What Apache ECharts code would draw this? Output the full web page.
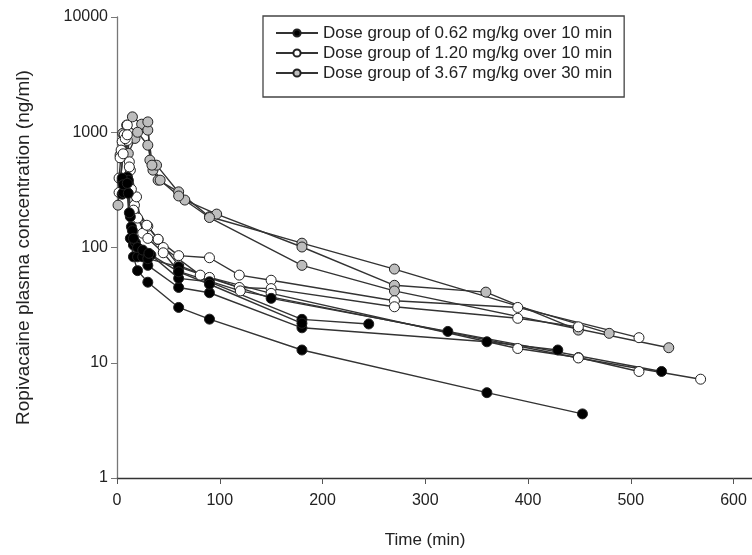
<!DOCTYPE html>
<html>
<head>
<meta charset="utf-8">
<script src="https://cdn.jsdelivr.net/npm/echarts@6/dist/echarts.min.js"></script>
<style>
html,body{margin:0;padding:0;background:#fff;}
#chart{width:752px;height:555px;}
</style>
</head>
<body>
<div id="chart"></div>
<script>
// ---- data (time in min, concentration in ng/ml) ----
const groupNames = [
  'Dose group of 0.62 mg/kg over 10 min',
  'Dose group of 1.20 mg/kg over 10 min',
  'Dose group of 3.67 mg/kg over 30 min'
];
const xTicks = [0, 100, 200, 300, 400, 500, 600];
const yTicks = [1, 10, 100, 1000, 10000];

// 0.62 mg/kg subjects
const low1 = [[5,290],[10,300],[13,120],[16,83],[20,63],[30,50],[60,30.2],[90,23.9],[180,12.9],[360,5.5],[453,3.6]];
const low2 = [[5,380],[10,410],[13,185],[16,105],[20,83],[30,70],[60,45],[90,40.5],[180,20.1],[360,15.2],[429,12.9]];
const low3 = [[6,300],[11,384],[14,151],[18,110],[25,83],[33,86],[60,54],[90,50.4],[180,23.8],[245,21.7]];
const low4 = [[5,400],[11,295],[15,140],[20,100],[30,80],[60,68],[150,36.2],[322,18.7],[530,8.4]];
const low5 = [[6,350],[10,360],[12,200],[16,120],[25,95],[31,89],[60,61.5],[90,48],[180,22]];

// 1.20 mg/kg subjects
const mid1 = [[2,400],[5,830],[10,1153],[12,554],[17,233],[30,153],[40,117],[60,85],[90,81.5],[119,57.6],[150,52],[270,34.5],[390,30.2],[508,16.5]];
const mid2 = [[3,600],[7,950],[10,850],[13,469],[19,275],[25,133],[45,100],[81,57.6],[119,45],[150,44],[270,30.6],[390,24.3],[449,20.5]];
const mid3 = [[4,700],[8,880],[12,500],[16,211],[29,156],[40,118],[60,70],[90,55],[150,40],[390,13.3],[449,11.1],[508,8.4]];
const mid4 = [[2,300],[6,650],[10,950],[14,320],[20,180],[30,120],[45,90],[60,62],[120,42],[449,11],[568,7.2]];

// 3.67 mg/kg subjects
const high1 = [[1,233],[7,826],[15,1360],[24,1175],[30,1043],[35,469],[40,384],[60,304],[90,185],[180,109],[270,65],[479,18]];
const high2 = [[3,633],[11,655],[17.5,884],[30,1230],[32,573],[38.5,518],[66,258],[97,195],[180,101],[270,47],[359,41],[449,19.2]];
const high3 = [[5.5,977],[9.4,1153],[20,1000],[30,772],[34,518],[42,384],[60,280],[90,182],[180,70],[270,42],[537,13.5]];

const lowSubjects = [low1, low2, low3, low4, low5];
const midSubjects = [mid1, mid2, mid3, mid4];
const highSubjects = [high1, high2, high3];

// ---- chart ----
const FONT = '"Liberation Sans", Arial, sans-serif';
const groups = [
  {name: groupNames[2], subjects: highSubjects, fill: '#bdbdbd'},
  {name: groupNames[1], subjects: midSubjects, fill: '#ffffff'},
  {name: groupNames[0], subjects: lowSubjects, fill: '#000000'}
];
const series = [];
groups.forEach(g => {
  g.subjects.forEach(s => {
    series.push({
      type: 'line',
      name: g.name,
      data: s,
      symbol: 'circle',
      symbolSize: 10,
      showAllSymbol: true,
      lineStyle: {color: '#333', width: 1.4},
      itemStyle: {color: g.fill, borderColor: '#222', borderWidth: 1},
      emphasis: {disabled: true}
    });
  });
});

const chart = echarts.init(document.getElementById('chart'), null, {renderer: 'canvas'});
chart.setOption({
  animation: false,
  backgroundColor: '#fff',
  grid: {left: 117, right: 0, top: 17, bottom: 77, containLabel: false},
  legend: {
    data: groupNames,
    orient: 'vertical',
    left: 263,
    top: 16,
    itemWidth: 42,
    itemHeight: 9,
    itemGap: 0,
    padding: [7, 12, 14, 12],
    borderColor: '#444',
    borderWidth: 1.3,
    textStyle: {fontFamily: FONT, fontSize: 17, color: '#222', lineHeight: 20, height: 20}
  },
  xAxis: {
    type: 'value',
    min: 0,
    max: 618,
    interval: 100,
    name: 'Time (min)',
    nameLocation: 'middle',
    nameGap: 54,
    nameTextStyle: {fontFamily: FONT, fontSize: 17, color: '#222', padding: [0, 19, 0, 0]},
    axisLine: {lineStyle: {color: '#333', width: 1.3}},
    axisTick: {show: true, length: 6, lineStyle: {color: '#555'}, customValues: xTicks},
    axisLabel: {fontFamily: FONT, fontSize: 16, color: '#222', margin: 15, customValues: xTicks},
    splitLine: {show: false}
  },
  yAxis: {
    type: 'log',
    logBase: 10,
    min: 1,
    max: 10000,
    name: 'Ropivacaine plasma concentration (ng/ml)',
    nameLocation: 'middle',
    nameGap: 84,
    nameTextStyle: {fontFamily: FONT, fontSize: 19, color: '#222'},
    axisLine: {show: true, lineStyle: {color: '#777', width: 1.3}},
    axisTick: {show: true, length: 6, lineStyle: {color: '#777'}, customValues: yTicks},
    axisLabel: {fontFamily: FONT, fontSize: 16, color: '#222', margin: 9, customValues: yTicks,
      formatter: v => String(Math.round(v))},
    splitLine: {show: false},
    minorTick: {show: false}
  },
  series: series
});
</script>
</body>
</html>
